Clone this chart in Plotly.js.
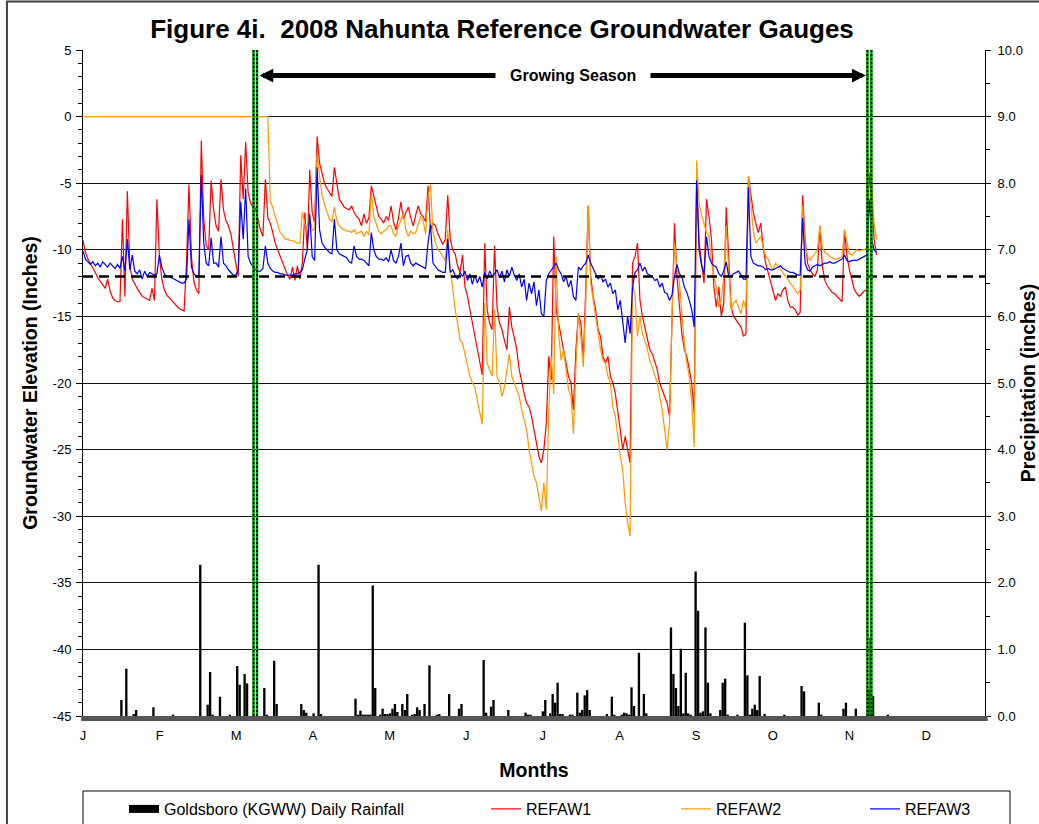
<!DOCTYPE html>
<html><head><meta charset="utf-8">
<script src="https://cdn.plot.ly/plotly-3.0.1.min.js"></script>
<style>html,body{margin:0;padding:0;background:#fff}#chart{width:1039px;height:824px}</style>
</head><body><div id="chart"></div>
<script>
// Month tick labels (x axis is day of year 2008)
const monthLabels = ['J','F','M','A','M','J','J','A','S','O','N','D'];
const monthTickDays = [0,31.1,62.2,93.3,124.4,155.5,186.6,217.7,248.8,279.9,311,342.1];
const elevTickVals = [5,0,-5,-10,-15,-20,-25,-30,-35,-40,-45];
const elevTickText = ['5','0','-5','-10','-15','-20','-25','-30','-35','-40','-45'];

// Daily groundwater elevations (inches), starting Jan 1
const refaw1 = [
-9.3,-10.2,-10.7,-11.0,-11.3,-11.7,-12.1,-12.4,-12.7,-12.9,
-12.2,-13.1,-13.6,-13.8,-13.9,-13.9,-7.7,-13.5,-5.6,-11.2,
-12.2,-12.6,-12.9,-13.2,-13.5,-13.6,-13.7,-13.8,-12.9,-13.8,
-6.2,-10.5,-12.2,-13.0,-13.4,-13.6,-13.8,-14.0,-14.2,-14.4,
-14.5,-14.6,-11.0,-5.1,-10.5,-12.4,-13.0,-13.3,-1.8,-7.7,
-9.7,-10.0,-4.8,-7.0,-8.2,-8.6,-4.7,-7.0,-7.8,-8.2,
-8.8,-10.0,-11.0,-12.0,-2.9,-6.2,-1.9,-5.7,-6.5,-6.8,
-6.9,-7.7,-8.5,-9.0,-4.7,-7.6,-8.0,-8.7,-9.5,-10.0,
-10.5,-11.0,-11.5,-11.9,-12.2,-11.3,-12.3,-11.2,-12.2,-11.0,
-7.2,-10.0,-4.0,-7.2,-8.0,-1.5,-3.5,-4.2,-5.0,-5.4,
-5.7,-6.0,-3.8,-5.2,-6.2,-6.5,-6.8,-6.9,-7.0,-6.7,
-7.2,-7.5,-7.7,-8.2,-7.3,-8.0,-7.6,-5.2,-6.0,-6.7,
-7.5,-7.7,-8.0,-7.5,-7.8,-6.7,-7.9,-8.5,-7.6,-6.4,
-7.7,-7.2,-6.8,-7.6,-8.2,-7.4,-6.7,-7.3,-7.5,-7.9,
-5.2,-8.5,-8.0,-8.2,-8.8,-9.2,-9.6,-9.2,-5.9,-9.2,
-10.0,-10.3,-11.2,-11.7,-10.4,-12.8,-13.5,-14.5,-15.5,-16.3,
-17.3,-18.3,-19.4,-9.5,-14.5,-15.5,-16.0,-9.7,-14.3,-15.5,
-16.0,-16.8,-17.5,-14.3,-15.8,-16.6,-17.5,-19.0,-20.0,-20.8,
-21.5,-21.8,-22.5,-23.5,-24.5,-25.5,-26.0,-25.0,-23.0,-18.0,
-19.8,-9.0,-14.5,-15.5,-16.3,-17.5,-18.3,-19.5,-20.0,-22.0,
-17.5,-14.8,-15.5,-18.3,-13.0,-6.7,-12.0,-13.5,-14.5,-16.0,
-16.5,-18.0,-18.5,-18.0,-19.5,-20.0,-20.8,-22.0,-23.5,-25.0,
-24.0,-25.0,-26.0,-11.0,-10.5,-9.5,-13.8,-15.0,-15.8,-16.5,
-17.5,-17.8,-18.5,-19.0,-20.0,-20.5,-21.0,-21.5,-22.5,-15.0,
-8.0,-12.0,-14.5,-16.3,-17.5,-18.0,-19.0,-20.0,-22.3,-4.6,
-9.5,-11.0,-12.5,-6.2,-7.5,-9.2,-12.8,-14.3,-12.8,-15.0,
-14.0,-6.8,-11.2,-14.3,-15.0,-15.3,-15.5,-15.8,-16.5,-16.3,
-4.5,-5.9,-7.2,-8.0,-8.7,-8.0,-9.8,-11.0,-11.7,-12.5,
-13.0,-13.8,-13.3,-13.5,-13.0,-12.8,-13.8,-14.3,-14.3,-14.5,
-14.9,-14.7,-5.9,-9.2,-11.0,-11.5,-11.8,-12.0,-11.5,-8.2,
-11.2,-12.3,-12.7,-13.0,-13.2,-13.3,-13.5,-13.7,-13.9,-8.5,
-10.5,-11.5,-12.3,-13.0,-13.3,-13.5,-13.3,-13.1,-13.0,-4.2,
-6.2,-9.2,-10.4
];
const refaw2 = [
0,0,0,0,0,0,0,0,0,0,
0,0,0,0,0,0,0,0,0,0,
0,0,0,0,0,0,0,0,0,0,
0,0,0,0,0,0,0,0,0,0,
0,0,0,0,0,0,0,0,0,0,
0,0,0,0,0,0,0,0,0,0,
0,0,0,0,0,0,0,0,0,0,
0,0,0,0,0,0,-6.4,-6.8,-7.5,-8.2,
-8.7,-8.9,-9.2,-9.2,-9.3,-9.3,-9.4,-9.5,-9.5,-7.2,
-8.0,-8.5,-7.5,-8.5,-8.5,-2.7,-4.5,-5.9,-6.6,-7.2,
-7.7,-7.9,-6.8,-7.8,-8.2,-8.4,-8.5,-8.6,-8.6,-8.7,
-8.5,-8.8,-8.7,-8.6,-9.0,-8.6,-8.9,-5.7,-7.5,-8.0,
-8.6,-8.8,-8.6,-8.5,-8.2,-8.2,-8.8,-9.0,-8.2,-7.8,
-7.2,-8.5,-9.0,-8.6,-8.8,-8.7,-8.0,-7.5,-7.8,-8.8,
-6.0,-5.1,-8.7,-9.5,-10.0,-10.2,-10.5,-10.8,-8.5,-11.5,
-12.8,-14.5,-15.5,-16.8,-17.0,-17.8,-18.8,-19.5,-20.0,-20.3,
-21.3,-22.2,-23.1,-14.0,-18.5,-19.0,-19.5,-14.5,-19.5,-20.0,
-21.0,-20.3,-19.0,-17.8,-19.5,-20.0,-20.5,-21.0,-22.0,-22.8,
-23.5,-25.0,-26.0,-27.0,-27.5,-28.5,-29.6,-27.5,-29.5,-22.0,
-18.0,-20.8,-10.5,-16.3,-18.3,-17.5,-19.0,-20.5,-21.0,-23.8,
-18.8,-14.8,-16.5,-18.8,-14.0,-6.7,-12.5,-13.8,-15.0,-16.5,
-17.5,-18.3,-18.5,-19.5,-20.0,-21.8,-22.5,-24.0,-25.5,-26.5,
-29.0,-30.5,-31.5,-12.5,-13.5,-16.5,-15.0,-16.3,-16.8,-17.5,
-18.3,-18.8,-19.5,-20.0,-21.0,-22.0,-23.5,-25.0,-23.0,-15.0,
-9.5,-11.3,-12.5,-15.0,-17.0,-18.5,-19.5,-21.5,-24.8,-3.3,
-6.5,-7.4,-8.0,-8.7,-9.0,-10.8,-12.0,-12.8,-14.3,-13.8,
-12.0,-8.2,-11.5,-14.5,-14.0,-13.8,-14.3,-14.8,-13.8,-14.5,
-4.5,-6.4,-8.6,-9.5,-9.2,-9.0,-9.8,-10.5,-10.7,-11.2,
-11.5,-11.0,-11.2,-11.5,-11.8,-12.0,-12.2,-12.5,-12.8,-13.0,
-13.3,-13.0,-6.7,-9.7,-10.5,-10.8,-10.5,-10.3,-10.0,-8.2,
-9.8,-10.2,-10.3,-10.5,-10.6,-10.7,-10.7,-10.6,-10.5,-8.5,
-9.5,-10.3,-10.4,-10.2,-10.0,-10.1,-10.0,-10.0,-9.8,-3.0,
-5.0,-8.0,-9.2
];
const refaw3 = [
-10.1,-10.7,-10.9,-11.1,-10.9,-11.2,-11.0,-11.3,-10.9,-11.1,
-11.3,-11.0,-11.2,-11.4,-11.1,-11.4,-10.5,-11.6,-9.2,-11.5,
-10.4,-11.6,-11.8,-11.5,-12.2,-11.6,-12.0,-11.7,-11.8,-11.9,
-11.8,-10.4,-11.3,-11.8,-12.0,-12.0,-12.1,-12.2,-12.3,-12.4,
-12.5,-12.5,-12.2,-7.7,-11.3,-11.8,-12.0,-11.9,-4.4,-9.5,
-11.0,-11.2,-9.1,-11.0,-11.0,-11.3,-9.0,-11.0,-11.2,-11.5,
-11.7,-11.9,-11.9,-11.5,-6.4,-9.2,-5.4,-10.5,-11.0,-11.3,
-11.5,-11.6,-11.6,-11.4,-9.7,-11.0,-11.4,-11.6,-11.7,-11.7,
-11.8,-11.8,-11.9,-11.9,-11.9,-11.9,-11.8,-11.8,-11.7,-11.5,
-10.7,-10.0,-7.3,-10.5,-10.8,-3.8,-8.5,-9.5,-9.8,-10.0,
-10.2,-10.3,-7.7,-10.0,-10.3,-10.4,-10.5,-10.6,-10.9,-11.0,
-9.7,-10.5,-10.7,-10.7,-10.8,-11.0,-11.2,-8.7,-10.0,-10.5,
-10.7,-10.7,-10.8,-10.6,-10.9,-10.0,-10.8,-11.0,-10.5,-9.5,
-11.2,-10.5,-10.4,-11.0,-11.2,-11.0,-11.1,-11.2,-11.3,-11.4,
-9.5,-8.1,-11.0,-11.3,-11.5,-11.6,-11.7,-11.7,-9.2,-11.7,
-11.5,-11.9,-12.2,-11.7,-12.0,-11.6,-12.3,-11.8,-12.6,-11.9,
-12.5,-12.0,-12.8,-11.7,-12.2,-11.6,-12.0,-11.8,-11.5,-12.1,
-11.6,-12.4,-11.5,-12.0,-11.3,-11.9,-12.3,-11.8,-12.8,-12.2,
-13.8,-12.5,-13.3,-12.4,-14.2,-13.0,-14.8,-15.0,-12.3,-11.8,
-11.5,-11.2,-11.0,-11.5,-11.8,-12.4,-12.0,-12.8,-12.3,-13.5,
-13.8,-11.3,-11.5,-11.2,-11.0,-10.4,-11.0,-11.4,-11.8,-12.2,
-11.9,-12.4,-12.2,-12.8,-12.5,-13.3,-13.0,-14.5,-13.8,-15.5,
-17.0,-15.0,-16.3,-12.8,-11.7,-11.5,-11.0,-11.6,-11.3,-11.8,
-11.9,-12.0,-12.3,-12.2,-12.8,-12.5,-13.2,-13.3,-13.8,-13.4,
-12.0,-11.1,-11.8,-12.0,-12.8,-13.2,-13.8,-14.5,-15.8,-4.8,
-10.0,-11.2,-11.8,-9.0,-10.5,-11.0,-11.2,-11.3,-11.8,-12.0,
-11.6,-10.9,-12.0,-12.0,-11.8,-11.7,-11.6,-11.9,-12.2,-12.2,
-5.3,-10.5,-11.0,-11.1,-11.2,-11.2,-11.3,-11.5,-11.4,-11.5,
-11.5,-11.4,-11.3,-11.2,-11.4,-11.5,-11.6,-11.7,-11.7,-11.8,
-11.9,-11.9,-7.6,-11.0,-11.5,-11.6,-11.3,-11.2,-11.1,-11.2,
-11.1,-11.0,-11.0,-10.9,-11.0,-11.0,-10.9,-10.8,-10.7,-10.4,
-10.8,-10.9,-10.8,-10.8,-10.8,-10.7,-10.6,-10.5,-10.4,-6.2,
-9.2,-10.0,-10.2
];

// Goldsboro (KGWW) daily rainfall: day of year and inches
const rainDays = [
15,17,20,21,28,36,47,50,51,52,
55,59,62,63,65,66,73,74,77,78,
88,89,90,93,95,96,110,111,112,113,
114,115,116,117,118,120,121,122,123,124,
125,126,127,129,130,131,133,134,135,136,
138,140,143,144,148,152,153,162,163,165,
166,172,179,180,181,186,187,189,190,191,
192,193,194,197,198,200,201,202,203,204,
205,212,214,215,218,219,220,221,222,223,
225,227,228,238,239,240,241,242,243,244,
245,246,248,249,250,251,252,253,254,258,
259,260,261,265,268,269,270,271,272,273,
274,276,284,291,292,298,299,308,309,313,
318,319,320,326
];
const rainInches = [
0.24,0.71,0.03,0.09,0.13,0.02,2.27,0.17,0.66,0.02,
0.29,0.02,0.75,0.47,0.63,0.49,0.42,0.02,0.83,0.18,
0.18,0.09,0.05,0.04,2.27,0.03,0.26,0.02,0.08,0.02,
0.02,0.02,0.02,1.96,0.42,0.02,0.11,0.03,0.03,0.04,
0.11,0.18,0.06,0.18,0.09,0.33,0.02,0.03,0.13,0.09,
0.18,0.76,0.02,0.03,0.33,0.11,0.18,0.84,0.05,0.14,
0.24,0.09,0.05,0.02,0.02,0.07,0.24,0.04,0.33,0.20,
0.50,0.03,0.03,0.02,0.02,0.35,0.05,0.09,0.31,0.39,
0.09,0.03,0.29,0.02,0.02,0.05,0.04,0.02,0.43,0.15,
0.95,0.33,0.04,1.33,0.63,0.42,0.15,1.01,0.04,0.65,
0.04,0.02,2.17,1.58,0.05,0.07,1.33,0.50,0.04,0.09,
0.50,0.56,0.02,0.02,1.40,0.61,0.02,0.11,0.17,0.09,
0.60,0.03,0.02,0.45,0.37,0.20,0.02,0.11,0.20,0.11,
0.39,1.18,0.30,0.02
];

// Growing season boundary markers (day of year) and threshold depth
const seasonLines = [69.2, 70.6, 318.3, 319.9];
const seasonStart = 71.0, seasonEnd = 317.6;
const thresholdDepth = -12;

const days = refaw1.map((_, i) => i);
const FONT = 'Liberation Sans, Arial, sans-serif';

const traces = [
  {type:'bar', x:rainDays, y:rainInches, yaxis:'y2', width:0.95, offset:0.1,
   marker:{color:'black', line:{width:0}}, name:'Goldsboro (KGWW) Daily Rainfall',
   legendgroup:'rain', showlegend:false, hoverinfo:'x+y'},
  {type:'scatter', mode:'lines', x:[null], y:[null], name:'Goldsboro (KGWW) Daily Rainfall',
   legendgroup:'rain', line:{color:'black', width:8}, legendwidth:317, hoverinfo:'skip'},
  {type:'scatter', mode:'lines', x:days, y:refaw1, name:'REFAW1',
   line:{color:'#FF0000', width:1.2}, legendwidth:145},
  {type:'scatter', mode:'lines', x:days, y:refaw2, name:'REFAW2',
   line:{color:'#FF9900', width:1.2}, legendwidth:144},
  {type:'scatter', mode:'lines', x:days, y:refaw3, name:'REFAW3',
   line:{color:'#0000FF', width:1.2}, legendwidth:70}
];

const shapes = [
  // hatched base stripe under the x axis
  {type:'rect', xref:'paper', yref:'paper', x0:-0.002, x1:1.003, y0:-0.0075, y1:0,
   fillcolor:'#555555', line:{width:0}, layer:'above'},
  // -12 inch threshold
  {type:'line', xref:'paper', x0:0, x1:1, yref:'y', y0:thresholdDepth, y1:thresholdDepth,
   line:{color:'black', width:2.5, dash:'10px,6px'}, layer:'above'},
  // legend frame
  {type:'rect', xref:'paper', yref:'paper', x0:0, x1:1.0277, y0:-0.1126, y1:-0.2,
   line:{color:'black', width:1}, fillcolor:'rgba(0,0,0,0)'},
  // outer chart frame
  {type:'rect', xref:'paper', yref:'paper', x0:-0.0843, x1:1.07, y0:1.0728, y1:-0.18,
   line:{color:'#444', width:2}, fillcolor:'rgba(0,0,0,0)'}
];
seasonLines.forEach(d => {
  shapes.push({type:'line', xref:'x', x0:d, x1:d, yref:'paper', y0:0, y1:1,
    line:{color:'#00A000', width:2.6}, layer:'above'});
});
seasonLines.forEach(d => {
  shapes.push({type:'line', xref:'x', x0:d, x1:d, yref:'paper', y0:0, y1:1,
    line:{color:'black', width:1.8, dash:'2px,2px'}, layer:'above'});
});

const layout = {
  width:1039, height:824,
  margin:{l:83, r:54, t:50, b:108, autoexpand:false},
  paper_bgcolor:'white', plot_bgcolor:'white',
  font:{family:FONT, color:'black', size:13},
  title:{text:'<b>Figure 4i.&nbsp; 2008 Nahunta Reference Groundwater Gauges</b>',
    font:{size:26, family:FONT, color:'black'},
    xref:'container', x:502/1039, xanchor:'center', yref:'container', y:1-29/824, yanchor:'middle'},
  xaxis:{range:[0,366], tickmode:'array', tickvals:monthTickDays, ticktext:monthLabels,
    showgrid:false, zeroline:false, showline:false, ticks:'', ticklabelstandoff:10,
    tickfont:{size:13}, fixedrange:true,
    title:{text:'<b>Months</b>', font:{size:19.5}, standoff:21}},
  yaxis:{range:[-45,5], tickmode:'array', tickvals:elevTickVals, ticktext:elevTickText,
    showgrid:true, gridcolor:'#111', gridwidth:1, zeroline:false,
    showline:true, linecolor:'black', linewidth:1, ticks:'outside', ticklen:6, tickcolor:'black',
    ticklabelstandoff:2,
    minor:{dtick:1, tick0:0, ticks:'outside', ticklen:4, tickcolor:'black', showgrid:false},
    title:{text:'<b>Groundwater Elevation (Inches)</b>', font:{size:19.5}, standoff:9}},
  yaxis2:{range:[0,10], overlaying:'y', side:'right', dtick:1, tick0:0, tickformat:'.1f',
    showgrid:false, zeroline:false, showline:true, linecolor:'black', linewidth:1,
    ticks:'outside', ticklen:5, tickcolor:'black', ticklabelstandoff:4,
    minor:{dtick:0.5, tick0:0, ticks:'outside', ticklen:4, tickcolor:'black', showgrid:false},
    title:{text:'<b>Precipitation (inches)</b>', font:{size:19.5}, standoff:5}},
  showlegend:true,
  legend:{orientation:'h', x:(124-83)/902, xanchor:'left', y:(716-792)/666, yanchor:'top',
    font:{size:16}, bgcolor:'rgba(0,0,0,0)', borderwidth:0, traceorder:'normal'},
  barmode:'overlay',
  shapes:shapes,
  annotations:[
    {xref:'x', yref:'y', x:seasonEnd, y:3.08, axref:'x', ayref:'y', ax:seasonStart, ay:3.08,
     text:'', showarrow:true, arrowhead:2, startarrowhead:2, arrowside:'end+start',
     arrowsize:0.55, startarrowsize:0.55, arrowwidth:5, arrowcolor:'black', standoff:0, startstandoff:0},
    {xref:'x', yref:'y', x:(seasonStart+seasonEnd)/2 + 4.5, y:3.08, text:'<b>Growing Season</b>',
     showarrow:false, bgcolor:'white', borderpad:14, font:{size:16}}
  ]
};

Plotly.newPlot('chart', traces, layout, {displayModeBar:false, staticPlot:true});
</script>
</body></html>
